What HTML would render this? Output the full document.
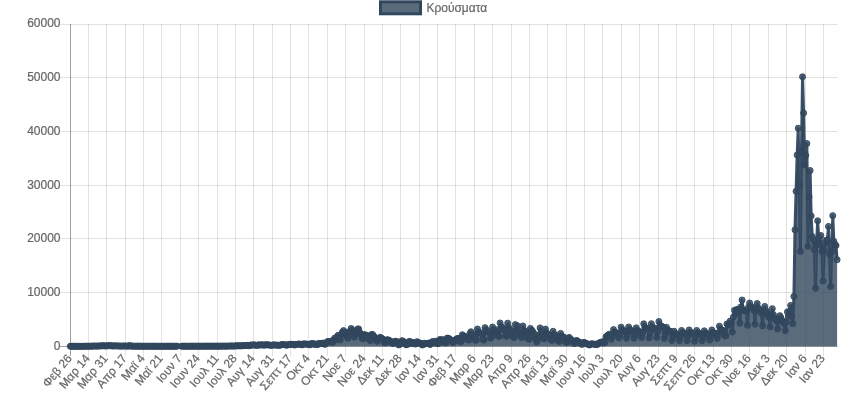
<!DOCTYPE html>
<html lang="el"><head><meta charset="utf-8"><title>Κρούσματα</title>
<style>html,body{margin:0;padding:0;background:#fff}body{width:860px;height:406px;overflow:hidden}svg{display:block}text{font-family:"Liberation Sans",sans-serif;font-size:12px;fill:#666;stroke:#666;stroke-width:0.2px}</style></head><body>
<svg width="860" height="406" viewBox="0 0 860 406">
<rect width="860" height="406" fill="#fff"/>
<rect x="380.5" y="1.8" width="40" height="12" fill="rgba(52,73,94,0.81)" stroke="#31475e" stroke-width="3"/>
<text x="426.4" y="11.7">Κρούσματα</text>
<text x="60.5" y="349.70" text-anchor="end">0</text>
<text x="60.5" y="296.03" text-anchor="end">10000</text>
<text x="60.5" y="242.37" text-anchor="end">20000</text>
<text x="60.5" y="188.70" text-anchor="end">30000</text>
<text x="60.5" y="135.03" text-anchor="end">40000</text>
<text x="60.5" y="81.37" text-anchor="end">50000</text>
<text x="60.5" y="26.70" text-anchor="end">60000</text>
<text transform="translate(69.60,356) rotate(-50)" text-anchor="end" x="0" y="4">Φεβ 26</text>
<text transform="translate(87.60,356) rotate(-50)" text-anchor="end" x="0" y="4">Μαρ 14</text>
<text transform="translate(105.60,356) rotate(-50)" text-anchor="end" x="0" y="4">Μαρ 31</text>
<text transform="translate(124.60,356) rotate(-50)" text-anchor="end" x="0" y="4">Απρ 17</text>
<text transform="translate(142.60,356) rotate(-50)" text-anchor="end" x="0" y="4">Μαϊ 4</text>
<text transform="translate(160.60,356) rotate(-50)" text-anchor="end" x="0" y="4">Μαϊ 21</text>
<text transform="translate(179.60,356) rotate(-50)" text-anchor="end" x="0" y="4">Ιουν 7</text>
<text transform="translate(197.60,356) rotate(-50)" text-anchor="end" x="0" y="4">Ιουν 24</text>
<text transform="translate(216.60,356) rotate(-50)" text-anchor="end" x="0" y="4">Ιουλ 11</text>
<text transform="translate(234.60,356) rotate(-50)" text-anchor="end" x="0" y="4">Ιουλ 28</text>
<text transform="translate(252.60,356) rotate(-50)" text-anchor="end" x="0" y="4">Αυγ 14</text>
<text transform="translate(271.60,356) rotate(-50)" text-anchor="end" x="0" y="4">Αυγ 31</text>
<text transform="translate(289.60,356) rotate(-50)" text-anchor="end" x="0" y="4">Σεπτ 17</text>
<text transform="translate(307.60,356) rotate(-50)" text-anchor="end" x="0" y="4">Οκτ 4</text>
<text transform="translate(326.60,356) rotate(-50)" text-anchor="end" x="0" y="4">Οκτ 21</text>
<text transform="translate(344.60,356) rotate(-50)" text-anchor="end" x="0" y="4">Νοε 7</text>
<text transform="translate(363.60,356) rotate(-50)" text-anchor="end" x="0" y="4">Νοε 24</text>
<text transform="translate(381.60,356) rotate(-50)" text-anchor="end" x="0" y="4">Δεκ 11</text>
<text transform="translate(399.60,356) rotate(-50)" text-anchor="end" x="0" y="4">Δεκ 28</text>
<text transform="translate(418.60,356) rotate(-50)" text-anchor="end" x="0" y="4">Ιαν 14</text>
<text transform="translate(436.60,356) rotate(-50)" text-anchor="end" x="0" y="4">Ιαν 31</text>
<text transform="translate(454.60,356) rotate(-50)" text-anchor="end" x="0" y="4">Φεβ 17</text>
<text transform="translate(473.60,356) rotate(-50)" text-anchor="end" x="0" y="4">Μαρ 6</text>
<text transform="translate(491.60,356) rotate(-50)" text-anchor="end" x="0" y="4">Μαρ 23</text>
<text transform="translate(510.60,356) rotate(-50)" text-anchor="end" x="0" y="4">Απρ 9</text>
<text transform="translate(528.60,356) rotate(-50)" text-anchor="end" x="0" y="4">Απρ 26</text>
<text transform="translate(546.60,356) rotate(-50)" text-anchor="end" x="0" y="4">Μαϊ 13</text>
<text transform="translate(565.60,356) rotate(-50)" text-anchor="end" x="0" y="4">Μαϊ 30</text>
<text transform="translate(583.60,356) rotate(-50)" text-anchor="end" x="0" y="4">Ιουν 16</text>
<text transform="translate(601.60,356) rotate(-50)" text-anchor="end" x="0" y="4">Ιουλ 3</text>
<text transform="translate(620.60,356) rotate(-50)" text-anchor="end" x="0" y="4">Ιουλ 20</text>
<text transform="translate(638.60,356) rotate(-50)" text-anchor="end" x="0" y="4">Αυγ 6</text>
<text transform="translate(657.60,356) rotate(-50)" text-anchor="end" x="0" y="4">Αυγ 23</text>
<text transform="translate(675.60,356) rotate(-50)" text-anchor="end" x="0" y="4">Σεπτ 9</text>
<text transform="translate(693.60,356) rotate(-50)" text-anchor="end" x="0" y="4">Σεπτ 26</text>
<text transform="translate(712.60,356) rotate(-50)" text-anchor="end" x="0" y="4">Οκτ 13</text>
<text transform="translate(730.60,356) rotate(-50)" text-anchor="end" x="0" y="4">Οκτ 30</text>
<text transform="translate(748.60,356) rotate(-50)" text-anchor="end" x="0" y="4">Νοε 16</text>
<text transform="translate(767.60,356) rotate(-50)" text-anchor="end" x="0" y="4">Δεκ 3</text>
<text transform="translate(785.60,356) rotate(-50)" text-anchor="end" x="0" y="4">Δεκ 20</text>
<text transform="translate(804.60,356) rotate(-50)" text-anchor="end" x="0" y="4">Ιαν 6</text>
<text transform="translate(822.60,356) rotate(-50)" text-anchor="end" x="0" y="4">Ιαν 23</text>
<g stroke-width="1" shape-rendering="auto"><line x1="60" y1="346.50" x2="837.5" y2="346.50" stroke="rgba(0,0,0,0.37)"/><line x1="60" y1="292.50" x2="837.5" y2="292.50" stroke="rgba(0,0,0,0.115)"/><line x1="60" y1="238.50" x2="837.5" y2="238.50" stroke="rgba(0,0,0,0.115)"/><line x1="60" y1="185.50" x2="837.5" y2="185.50" stroke="rgba(0,0,0,0.115)"/><line x1="60" y1="131.50" x2="837.5" y2="131.50" stroke="rgba(0,0,0,0.115)"/><line x1="60" y1="77.50" x2="837.5" y2="77.50" stroke="rgba(0,0,0,0.115)"/><line x1="60" y1="24.50" x2="837.5" y2="24.50" stroke="rgba(0,0,0,0.115)"/><line x1="70.50" y1="24" x2="70.50" y2="356" stroke="rgba(0,0,0,0.37)"/><line x1="88.50" y1="24" x2="88.50" y2="356" stroke="rgba(0,0,0,0.115)"/><line x1="106.50" y1="24" x2="106.50" y2="356" stroke="rgba(0,0,0,0.115)"/><line x1="125.50" y1="24" x2="125.50" y2="356" stroke="rgba(0,0,0,0.115)"/><line x1="143.50" y1="24" x2="143.50" y2="356" stroke="rgba(0,0,0,0.115)"/><line x1="161.50" y1="24" x2="161.50" y2="356" stroke="rgba(0,0,0,0.115)"/><line x1="180.50" y1="24" x2="180.50" y2="356" stroke="rgba(0,0,0,0.115)"/><line x1="198.50" y1="24" x2="198.50" y2="356" stroke="rgba(0,0,0,0.115)"/><line x1="217.50" y1="24" x2="217.50" y2="356" stroke="rgba(0,0,0,0.115)"/><line x1="235.50" y1="24" x2="235.50" y2="356" stroke="rgba(0,0,0,0.115)"/><line x1="253.50" y1="24" x2="253.50" y2="356" stroke="rgba(0,0,0,0.115)"/><line x1="272.50" y1="24" x2="272.50" y2="356" stroke="rgba(0,0,0,0.115)"/><line x1="290.50" y1="24" x2="290.50" y2="356" stroke="rgba(0,0,0,0.115)"/><line x1="308.50" y1="24" x2="308.50" y2="356" stroke="rgba(0,0,0,0.115)"/><line x1="327.50" y1="24" x2="327.50" y2="356" stroke="rgba(0,0,0,0.115)"/><line x1="345.50" y1="24" x2="345.50" y2="356" stroke="rgba(0,0,0,0.115)"/><line x1="364.50" y1="24" x2="364.50" y2="356" stroke="rgba(0,0,0,0.115)"/><line x1="382.50" y1="24" x2="382.50" y2="356" stroke="rgba(0,0,0,0.115)"/><line x1="400.50" y1="24" x2="400.50" y2="356" stroke="rgba(0,0,0,0.115)"/><line x1="419.50" y1="24" x2="419.50" y2="356" stroke="rgba(0,0,0,0.115)"/><line x1="437.50" y1="24" x2="437.50" y2="356" stroke="rgba(0,0,0,0.115)"/><line x1="455.50" y1="24" x2="455.50" y2="356" stroke="rgba(0,0,0,0.115)"/><line x1="474.50" y1="24" x2="474.50" y2="356" stroke="rgba(0,0,0,0.115)"/><line x1="492.50" y1="24" x2="492.50" y2="356" stroke="rgba(0,0,0,0.115)"/><line x1="511.50" y1="24" x2="511.50" y2="356" stroke="rgba(0,0,0,0.115)"/><line x1="529.50" y1="24" x2="529.50" y2="356" stroke="rgba(0,0,0,0.115)"/><line x1="547.50" y1="24" x2="547.50" y2="356" stroke="rgba(0,0,0,0.115)"/><line x1="566.50" y1="24" x2="566.50" y2="356" stroke="rgba(0,0,0,0.115)"/><line x1="584.50" y1="24" x2="584.50" y2="356" stroke="rgba(0,0,0,0.115)"/><line x1="602.50" y1="24" x2="602.50" y2="356" stroke="rgba(0,0,0,0.115)"/><line x1="621.50" y1="24" x2="621.50" y2="356" stroke="rgba(0,0,0,0.115)"/><line x1="639.50" y1="24" x2="639.50" y2="356" stroke="rgba(0,0,0,0.115)"/><line x1="658.50" y1="24" x2="658.50" y2="356" stroke="rgba(0,0,0,0.115)"/><line x1="676.50" y1="24" x2="676.50" y2="356" stroke="rgba(0,0,0,0.115)"/><line x1="694.50" y1="24" x2="694.50" y2="356" stroke="rgba(0,0,0,0.115)"/><line x1="713.50" y1="24" x2="713.50" y2="356" stroke="rgba(0,0,0,0.115)"/><line x1="731.50" y1="24" x2="731.50" y2="356" stroke="rgba(0,0,0,0.115)"/><line x1="749.50" y1="24" x2="749.50" y2="356" stroke="rgba(0,0,0,0.115)"/><line x1="768.50" y1="24" x2="768.50" y2="356" stroke="rgba(0,0,0,0.115)"/><line x1="786.50" y1="24" x2="786.50" y2="356" stroke="rgba(0,0,0,0.115)"/><line x1="805.50" y1="24" x2="805.50" y2="356" stroke="rgba(0,0,0,0.115)"/><line x1="823.50" y1="24" x2="823.50" y2="356" stroke="rgba(0,0,0,0.115)"/></g>
<path d="M70.30,346.30 L70.30,346.29 L71.38,346.29 L72.46,346.29 L73.54,346.29 L74.62,346.29 L75.70,346.28 L76.78,346.27 L77.86,346.27 L78.94,346.27 L80.02,346.27 L81.10,346.27 L82.18,346.27 L83.26,346.27 L84.34,346.25 L85.42,346.24 L86.50,346.22 L87.58,346.20 L88.66,346.20 L89.74,346.19 L90.82,346.20 L91.90,346.13 L92.98,346.11 L94.06,346.06 L95.14,346.06 L96.22,346.07 L97.30,346.09 L98.38,346.07 L99.46,345.93 L100.54,345.92 L101.62,345.88 L102.70,345.81 L103.78,345.77 L104.86,345.97 L105.94,345.98 L107.02,345.79 L108.10,345.86 L109.18,345.61 L110.26,345.79 L111.34,345.77 L112.42,345.93 L113.50,346.03 L114.58,345.81 L115.66,345.88 L116.74,345.96 L117.82,345.95 L118.90,345.99 L119.98,346.08 L121.06,346.10 L122.14,346.05 L123.22,346.02 L124.30,346.00 L125.38,346.02 L126.46,346.04 L127.54,346.11 L128.62,346.13 L129.70,345.46 L130.78,346.07 L131.86,346.13 L132.94,346.12 L134.02,346.17 L135.10,346.17 L136.18,346.19 L137.26,346.16 L138.34,346.15 L139.42,346.19 L140.50,346.19 L141.58,346.20 L142.66,346.23 L143.74,346.23 L144.82,346.18 L145.90,346.21 L146.98,346.20 L148.06,346.21 L149.14,346.20 L150.22,346.23 L151.30,346.24 L152.38,346.21 L153.46,346.21 L154.54,346.23 L155.62,346.21 L156.70,346.24 L157.78,346.24 L158.86,346.25 L159.94,346.23 L161.02,346.23 L162.10,346.22 L163.18,346.22 L164.26,346.24 L165.34,346.26 L166.42,346.25 L167.50,346.22 L168.58,346.22 L169.66,346.22 L170.74,346.21 L171.82,346.22 L172.90,346.24 L173.98,346.24 L175.06,346.21 L176.14,346.21 L177.22,346.19 L178.30,346.20 L179.38,346.22 L180.46,346.22 L181.54,346.23 L182.62,346.18 L183.70,346.19 L184.78,346.20 L185.86,346.20 L186.94,346.19 L188.02,346.21 L189.10,346.22 L190.18,346.18 L191.26,346.18 L192.34,346.17 L193.42,346.19 L194.50,346.18 L195.58,346.20 L196.66,346.21 L197.74,346.18 L198.82,346.15 L199.90,346.18 L200.98,346.16 L202.06,346.18 L203.14,346.21 L204.22,346.20 L205.30,346.15 L206.38,346.15 L207.46,346.15 L208.54,346.16 L209.62,346.17 L210.70,346.19 L211.78,346.18 L212.86,346.13 L213.94,346.14 L215.02,346.13 L216.10,346.14 L217.18,346.15 L218.26,346.17 L219.34,346.19 L220.42,346.14 L221.50,346.13 L222.58,346.12 L223.66,346.12 L224.74,346.12 L225.82,346.17 L226.90,346.17 L227.98,346.07 L229.06,346.06 L230.14,346.01 L231.22,345.99 L232.30,346.02 L233.38,346.02 L234.46,346.07 L235.54,345.87 L236.62,345.85 L237.70,345.82 L238.78,345.83 L239.86,345.82 L240.94,345.88 L242.02,345.85 L243.10,345.65 L244.18,345.56 L245.26,345.55 L246.34,345.56 L247.42,345.32 L248.50,345.60 L249.58,345.69 L250.66,345.01 L251.74,345.18 L252.82,344.98 L253.90,344.84 L254.98,345.09 L256.06,345.31 L257.14,345.40 L258.22,344.84 L259.30,345.03 L260.38,345.00 L261.46,344.86 L262.54,344.83 L263.62,345.14 L264.70,345.17 L265.78,344.65 L266.86,344.85 L267.94,344.85 L269.02,345.09 L270.10,345.08 L271.18,345.34 L272.26,345.36 L273.34,344.82 L274.42,344.99 L275.50,345.04 L276.58,345.16 L277.66,345.13 L278.74,345.30 L279.82,345.35 L280.90,344.91 L281.98,344.56 L283.06,344.63 L284.14,344.74 L285.22,344.86 L286.30,345.10 L287.38,345.15 L288.46,344.50 L289.54,344.43 L290.62,344.38 L291.70,344.26 L292.78,344.40 L293.86,344.89 L294.94,344.96 L296.02,344.32 L297.10,344.35 L298.18,343.96 L299.26,344.32 L300.34,344.06 L301.42,344.77 L302.50,344.84 L303.58,343.84 L304.66,344.05 L305.74,344.00 L306.82,344.10 L307.90,344.28 L308.98,344.62 L310.06,344.84 L311.14,343.56 L312.22,343.93 L313.30,343.59 L314.38,344.40 L315.46,344.02 L316.54,344.37 L317.62,344.65 L318.70,343.40 L319.78,343.50 L320.86,343.67 L321.94,343.43 L323.02,343.06 L324.10,344.08 L325.18,344.24 L326.26,342.71 L327.34,341.65 L328.42,341.56 L329.50,341.78 L330.58,341.27 L331.66,342.05 L332.74,342.46 L333.82,339.53 L334.90,337.98 L335.98,339.79 L337.06,337.21 L338.14,335.25 L339.22,337.28 L340.30,340.11 L341.38,334.65 L342.46,332.07 L343.54,330.62 L344.62,333.14 L345.70,332.56 L346.78,336.01 L347.86,338.29 L348.94,333.48 L350.02,331.50 L351.10,328.47 L352.18,329.97 L353.26,331.06 L354.34,337.17 L355.42,334.48 L356.50,333.28 L357.58,329.05 L358.66,328.95 L359.74,332.42 L360.82,333.87 L361.90,338.25 L362.98,338.84 L364.06,334.82 L365.14,334.73 L366.22,335.45 L367.30,335.48 L368.38,336.91 L369.46,339.89 L370.54,340.69 L371.62,334.48 L372.70,334.55 L373.78,336.18 L374.86,337.34 L375.94,338.86 L377.02,341.44 L378.10,339.57 L379.18,338.87 L380.26,337.29 L381.34,338.06 L382.42,338.80 L383.50,339.88 L384.58,342.57 L385.66,342.86 L386.74,339.77 L387.82,339.90 L388.90,340.09 L389.98,341.37 L391.06,341.46 L392.14,343.14 L393.22,343.47 L394.30,341.71 L395.38,341.26 L396.46,341.37 L397.54,342.98 L398.62,344.89 L399.70,344.46 L400.78,343.75 L401.86,340.67 L402.94,341.24 L404.02,341.70 L405.10,343.09 L406.18,344.89 L407.26,344.20 L408.34,344.00 L409.42,341.31 L410.50,341.94 L411.58,343.56 L412.66,342.42 L413.74,343.14 L414.82,343.91 L415.90,343.91 L416.98,341.64 L418.06,342.69 L419.14,343.02 L420.22,343.02 L421.30,343.56 L422.38,345.03 L423.46,344.58 L424.54,343.26 L425.62,343.53 L426.70,343.56 L427.78,343.26 L428.86,343.05 L429.94,344.50 L431.02,343.96 L432.10,341.78 L433.18,341.69 L434.26,342.45 L435.34,341.24 L436.42,341.92 L437.50,343.70 L438.58,343.38 L439.66,339.52 L440.74,340.11 L441.82,339.87 L442.90,339.69 L443.98,340.32 L445.06,342.89 L446.14,342.87 L447.22,338.10 L448.30,338.26 L449.38,338.77 L450.46,339.73 L451.54,340.33 L452.62,342.46 L453.70,342.23 L454.78,340.27 L455.86,339.73 L456.94,338.64 L458.02,338.45 L459.10,338.70 L460.18,341.55 L461.26,341.57 L462.34,334.76 L463.42,336.01 L464.50,336.68 L465.58,336.71 L466.66,337.54 L467.74,339.48 L468.82,339.98 L469.90,333.65 L470.98,331.77 L472.06,334.37 L473.14,334.39 L474.22,336.48 L475.30,340.16 L476.38,340.04 L477.46,329.01 L478.54,332.14 L479.62,332.48 L480.70,333.37 L481.78,333.93 L482.86,339.20 L483.94,340.16 L485.02,327.67 L486.10,329.78 L487.18,331.33 L488.26,331.53 L489.34,332.78 L490.42,338.16 L491.50,337.12 L492.58,327.02 L493.66,329.84 L494.74,332.39 L495.82,331.32 L496.90,329.74 L497.98,335.79 L499.06,336.62 L500.14,322.97 L501.22,326.86 L502.30,327.53 L503.38,329.72 L504.46,328.92 L505.54,335.79 L506.62,336.27 L507.70,323.13 L508.78,327.78 L509.86,328.94 L510.94,331.53 L512.02,331.20 L513.10,336.94 L514.18,337.66 L515.26,324.62 L516.34,329.69 L517.42,325.69 L518.50,329.81 L519.58,333.34 L520.66,336.47 L521.74,337.66 L522.82,325.93 L523.90,330.09 L524.98,331.47 L526.06,331.83 L527.14,334.28 L528.22,338.77 L529.30,339.22 L530.38,328.45 L531.46,330.00 L532.54,331.35 L533.62,332.86 L534.70,335.99 L535.78,338.80 L536.86,342.01 L537.94,338.84 L539.02,335.05 L540.10,327.91 L541.18,331.83 L542.26,334.65 L543.34,338.62 L544.42,338.87 L545.50,329.11 L546.58,332.92 L547.66,334.65 L548.74,334.58 L549.82,335.27 L550.90,339.51 L551.98,340.39 L553.06,331.25 L554.14,334.56 L555.22,335.16 L556.30,335.76 L557.38,336.97 L558.46,340.92 L559.54,341.46 L560.62,333.40 L561.70,336.23 L562.78,336.75 L563.86,337.27 L564.94,338.30 L566.02,342.00 L567.10,342.54 L568.18,338.24 L569.26,337.43 L570.34,339.31 L571.42,339.85 L572.50,340.65 L573.58,343.07 L574.66,343.50 L575.74,341.03 L576.82,340.49 L577.90,341.68 L578.98,342.11 L580.06,342.54 L581.14,344.04 L582.22,344.36 L583.30,342.64 L584.38,342.43 L585.46,343.18 L586.54,343.61 L587.62,343.93 L588.70,344.79 L589.78,344.96 L590.86,343.99 L591.94,343.77 L593.02,344.04 L594.10,344.15 L595.18,344.26 L596.26,344.69 L597.34,344.47 L598.42,343.29 L599.50,342.81 L600.58,342.54 L601.66,342.00 L602.74,341.73 L603.82,342.97 L604.90,342.54 L605.98,336.64 L607.06,336.51 L608.14,335.01 L609.22,334.20 L610.30,335.55 L611.38,339.31 L612.46,336.27 L613.54,329.58 L614.62,332.09 L615.70,332.59 L616.78,332.93 L617.86,333.59 L618.94,337.97 L620.02,334.80 L621.10,327.13 L622.18,330.01 L623.26,330.58 L624.34,330.97 L625.42,331.73 L626.50,338.24 L627.58,334.71 L628.66,326.98 L629.74,329.88 L630.82,330.46 L631.90,330.85 L632.98,331.62 L634.06,338.24 L635.14,335.24 L636.22,327.87 L637.30,330.63 L638.38,331.19 L639.46,331.56 L640.54,332.29 L641.62,337.43 L642.70,332.81 L643.78,323.82 L644.86,327.19 L645.94,327.87 L647.02,328.32 L648.10,329.21 L649.18,337.97 L650.26,332.73 L651.34,323.69 L652.42,327.08 L653.50,327.76 L654.58,328.21 L655.66,329.11 L656.74,337.43 L657.82,331.43 L658.90,321.52 L659.98,325.24 L661.06,325.98 L662.14,326.48 L663.22,327.47 L664.30,338.50 L665.38,334.89 L666.46,327.28 L667.54,330.13 L668.62,330.70 L669.70,331.08 L670.78,331.84 L671.86,340.39 L672.94,337.27 L674.02,331.25 L675.10,333.50 L676.18,333.96 L677.26,334.26 L678.34,334.86 L679.42,340.65 L680.50,336.78 L681.58,330.44 L682.66,332.82 L683.74,333.29 L684.82,333.61 L685.90,334.25 L686.98,340.65 L688.06,336.49 L689.14,329.95 L690.22,332.41 L691.30,332.90 L692.38,333.22 L693.46,333.88 L694.54,341.19 L695.62,336.78 L696.70,330.44 L697.78,332.82 L698.86,333.29 L699.94,333.61 L701.02,334.25 L702.10,340.65 L703.18,337.04 L704.26,330.87 L705.34,333.18 L706.42,333.65 L707.50,333.96 L708.58,334.57 L709.66,340.12 L710.74,336.49 L711.82,329.95 L712.90,332.41 L713.98,332.90 L715.06,333.22 L716.14,333.88 L717.22,338.50 L718.30,334.24 L719.38,326.20 L720.46,329.21 L721.54,329.82 L722.62,330.22 L723.70,331.02 L724.78,335.82 L725.86,335.82 L726.94,323.91 L728.02,325.13 L729.10,323.46 L730.18,321.05 L731.26,323.18 L732.34,332.05 L733.42,317.00 L734.50,310.28 L735.58,313.23 L736.66,309.70 L737.74,309.15 L738.82,311.93 L739.90,323.18 L740.98,306.86 L742.06,299.99 L743.14,309.73 L744.22,310.37 L745.30,310.80 L746.38,311.37 L747.46,325.33 L748.54,307.14 L749.62,303.02 L750.70,306.96 L751.78,307.18 L752.86,308.08 L753.94,310.37 L755.02,324.26 L756.10,310.09 L757.18,303.56 L758.26,308.08 L759.34,309.80 L760.42,310.80 L761.50,313.23 L762.58,325.87 L763.66,310.28 L764.74,306.41 L765.82,310.45 L766.90,312.82 L767.98,315.46 L769.06,317.27 L770.14,326.94 L771.22,314.58 L772.30,308.66 L773.38,314.58 L774.46,317.80 L775.54,319.42 L776.62,321.03 L777.70,329.09 L778.78,320.49 L779.86,315.65 L780.94,317.80 L782.02,320.49 L783.10,321.57 L784.18,323.72 L785.26,330.71 L786.34,322.11 L787.42,311.89 L788.50,315.97 L789.58,311.35 L790.66,305.44 L791.74,316.73 L792.82,323.72 L793.90,296.38 L794.98,229.86 L796.06,191.30 L797.14,155.00 L798.22,128.22 L799.30,184.95 L800.38,251.40 L801.46,151.42 L802.54,76.79 L803.62,113.03 L804.70,165.02 L805.78,155.43 L806.86,143.60 L807.94,246.46 L809.02,197.01 L810.10,170.52 L811.18,215.94 L812.26,236.57 L813.34,239.99 L814.42,249.74 L815.50,288.32 L816.58,244.36 L817.66,220.81 L818.74,238.19 L819.82,244.85 L820.90,235.54 L821.98,251.41 L823.06,281.03 L824.14,250.06 L825.22,243.07 L826.30,240.32 L827.38,239.84 L828.46,226.40 L829.54,254.31 L830.62,286.62 L831.70,251.40 L832.78,215.63 L833.86,241.45 L834.94,244.68 L836.02,245.49 L837.10,259.74 L837.10,346.30 Z" fill="rgba(52,73,94,0.81)"/>
<path d="M70.30,346.29 L71.38,346.29 L72.46,346.29 L73.54,346.29 L74.62,346.29 L75.70,346.28 L76.78,346.27 L77.86,346.27 L78.94,346.27 L80.02,346.27 L81.10,346.27 L82.18,346.27 L83.26,346.27 L84.34,346.25 L85.42,346.24 L86.50,346.22 L87.58,346.20 L88.66,346.20 L89.74,346.19 L90.82,346.20 L91.90,346.13 L92.98,346.11 L94.06,346.06 L95.14,346.06 L96.22,346.07 L97.30,346.09 L98.38,346.07 L99.46,345.93 L100.54,345.92 L101.62,345.88 L102.70,345.81 L103.78,345.77 L104.86,345.97 L105.94,345.98 L107.02,345.79 L108.10,345.86 L109.18,345.61 L110.26,345.79 L111.34,345.77 L112.42,345.93 L113.50,346.03 L114.58,345.81 L115.66,345.88 L116.74,345.96 L117.82,345.95 L118.90,345.99 L119.98,346.08 L121.06,346.10 L122.14,346.05 L123.22,346.02 L124.30,346.00 L125.38,346.02 L126.46,346.04 L127.54,346.11 L128.62,346.13 L129.70,345.46 L130.78,346.07 L131.86,346.13 L132.94,346.12 L134.02,346.17 L135.10,346.17 L136.18,346.19 L137.26,346.16 L138.34,346.15 L139.42,346.19 L140.50,346.19 L141.58,346.20 L142.66,346.23 L143.74,346.23 L144.82,346.18 L145.90,346.21 L146.98,346.20 L148.06,346.21 L149.14,346.20 L150.22,346.23 L151.30,346.24 L152.38,346.21 L153.46,346.21 L154.54,346.23 L155.62,346.21 L156.70,346.24 L157.78,346.24 L158.86,346.25 L159.94,346.23 L161.02,346.23 L162.10,346.22 L163.18,346.22 L164.26,346.24 L165.34,346.26 L166.42,346.25 L167.50,346.22 L168.58,346.22 L169.66,346.22 L170.74,346.21 L171.82,346.22 L172.90,346.24 L173.98,346.24 L175.06,346.21 L176.14,346.21 L177.22,346.19 L178.30,346.20 L179.38,346.22 L180.46,346.22 L181.54,346.23 L182.62,346.18 L183.70,346.19 L184.78,346.20 L185.86,346.20 L186.94,346.19 L188.02,346.21 L189.10,346.22 L190.18,346.18 L191.26,346.18 L192.34,346.17 L193.42,346.19 L194.50,346.18 L195.58,346.20 L196.66,346.21 L197.74,346.18 L198.82,346.15 L199.90,346.18 L200.98,346.16 L202.06,346.18 L203.14,346.21 L204.22,346.20 L205.30,346.15 L206.38,346.15 L207.46,346.15 L208.54,346.16 L209.62,346.17 L210.70,346.19 L211.78,346.18 L212.86,346.13 L213.94,346.14 L215.02,346.13 L216.10,346.14 L217.18,346.15 L218.26,346.17 L219.34,346.19 L220.42,346.14 L221.50,346.13 L222.58,346.12 L223.66,346.12 L224.74,346.12 L225.82,346.17 L226.90,346.17 L227.98,346.07 L229.06,346.06 L230.14,346.01 L231.22,345.99 L232.30,346.02 L233.38,346.02 L234.46,346.07 L235.54,345.87 L236.62,345.85 L237.70,345.82 L238.78,345.83 L239.86,345.82 L240.94,345.88 L242.02,345.85 L243.10,345.65 L244.18,345.56 L245.26,345.55 L246.34,345.56 L247.42,345.32 L248.50,345.60 L249.58,345.69 L250.66,345.01 L251.74,345.18 L252.82,344.98 L253.90,344.84 L254.98,345.09 L256.06,345.31 L257.14,345.40 L258.22,344.84 L259.30,345.03 L260.38,345.00 L261.46,344.86 L262.54,344.83 L263.62,345.14 L264.70,345.17 L265.78,344.65 L266.86,344.85 L267.94,344.85 L269.02,345.09 L270.10,345.08 L271.18,345.34 L272.26,345.36 L273.34,344.82 L274.42,344.99 L275.50,345.04 L276.58,345.16 L277.66,345.13 L278.74,345.30 L279.82,345.35 L280.90,344.91 L281.98,344.56 L283.06,344.63 L284.14,344.74 L285.22,344.86 L286.30,345.10 L287.38,345.15 L288.46,344.50 L289.54,344.43 L290.62,344.38 L291.70,344.26 L292.78,344.40 L293.86,344.89 L294.94,344.96 L296.02,344.32 L297.10,344.35 L298.18,343.96 L299.26,344.32 L300.34,344.06 L301.42,344.77 L302.50,344.84 L303.58,343.84 L304.66,344.05 L305.74,344.00 L306.82,344.10 L307.90,344.28 L308.98,344.62 L310.06,344.84 L311.14,343.56 L312.22,343.93 L313.30,343.59 L314.38,344.40 L315.46,344.02 L316.54,344.37 L317.62,344.65 L318.70,343.40 L319.78,343.50 L320.86,343.67 L321.94,343.43 L323.02,343.06 L324.10,344.08 L325.18,344.24 L326.26,342.71 L327.34,341.65 L328.42,341.56 L329.50,341.78 L330.58,341.27 L331.66,342.05 L332.74,342.46 L333.82,339.53 L334.90,337.98 L335.98,339.79 L337.06,337.21 L338.14,335.25 L339.22,337.28 L340.30,340.11 L341.38,334.65 L342.46,332.07 L343.54,330.62 L344.62,333.14 L345.70,332.56 L346.78,336.01 L347.86,338.29 L348.94,333.48 L350.02,331.50 L351.10,328.47 L352.18,329.97 L353.26,331.06 L354.34,337.17 L355.42,334.48 L356.50,333.28 L357.58,329.05 L358.66,328.95 L359.74,332.42 L360.82,333.87 L361.90,338.25 L362.98,338.84 L364.06,334.82 L365.14,334.73 L366.22,335.45 L367.30,335.48 L368.38,336.91 L369.46,339.89 L370.54,340.69 L371.62,334.48 L372.70,334.55 L373.78,336.18 L374.86,337.34 L375.94,338.86 L377.02,341.44 L378.10,339.57 L379.18,338.87 L380.26,337.29 L381.34,338.06 L382.42,338.80 L383.50,339.88 L384.58,342.57 L385.66,342.86 L386.74,339.77 L387.82,339.90 L388.90,340.09 L389.98,341.37 L391.06,341.46 L392.14,343.14 L393.22,343.47 L394.30,341.71 L395.38,341.26 L396.46,341.37 L397.54,342.98 L398.62,344.89 L399.70,344.46 L400.78,343.75 L401.86,340.67 L402.94,341.24 L404.02,341.70 L405.10,343.09 L406.18,344.89 L407.26,344.20 L408.34,344.00 L409.42,341.31 L410.50,341.94 L411.58,343.56 L412.66,342.42 L413.74,343.14 L414.82,343.91 L415.90,343.91 L416.98,341.64 L418.06,342.69 L419.14,343.02 L420.22,343.02 L421.30,343.56 L422.38,345.03 L423.46,344.58 L424.54,343.26 L425.62,343.53 L426.70,343.56 L427.78,343.26 L428.86,343.05 L429.94,344.50 L431.02,343.96 L432.10,341.78 L433.18,341.69 L434.26,342.45 L435.34,341.24 L436.42,341.92 L437.50,343.70 L438.58,343.38 L439.66,339.52 L440.74,340.11 L441.82,339.87 L442.90,339.69 L443.98,340.32 L445.06,342.89 L446.14,342.87 L447.22,338.10 L448.30,338.26 L449.38,338.77 L450.46,339.73 L451.54,340.33 L452.62,342.46 L453.70,342.23 L454.78,340.27 L455.86,339.73 L456.94,338.64 L458.02,338.45 L459.10,338.70 L460.18,341.55 L461.26,341.57 L462.34,334.76 L463.42,336.01 L464.50,336.68 L465.58,336.71 L466.66,337.54 L467.74,339.48 L468.82,339.98 L469.90,333.65 L470.98,331.77 L472.06,334.37 L473.14,334.39 L474.22,336.48 L475.30,340.16 L476.38,340.04 L477.46,329.01 L478.54,332.14 L479.62,332.48 L480.70,333.37 L481.78,333.93 L482.86,339.20 L483.94,340.16 L485.02,327.67 L486.10,329.78 L487.18,331.33 L488.26,331.53 L489.34,332.78 L490.42,338.16 L491.50,337.12 L492.58,327.02 L493.66,329.84 L494.74,332.39 L495.82,331.32 L496.90,329.74 L497.98,335.79 L499.06,336.62 L500.14,322.97 L501.22,326.86 L502.30,327.53 L503.38,329.72 L504.46,328.92 L505.54,335.79 L506.62,336.27 L507.70,323.13 L508.78,327.78 L509.86,328.94 L510.94,331.53 L512.02,331.20 L513.10,336.94 L514.18,337.66 L515.26,324.62 L516.34,329.69 L517.42,325.69 L518.50,329.81 L519.58,333.34 L520.66,336.47 L521.74,337.66 L522.82,325.93 L523.90,330.09 L524.98,331.47 L526.06,331.83 L527.14,334.28 L528.22,338.77 L529.30,339.22 L530.38,328.45 L531.46,330.00 L532.54,331.35 L533.62,332.86 L534.70,335.99 L535.78,338.80 L536.86,342.01 L537.94,338.84 L539.02,335.05 L540.10,327.91 L541.18,331.83 L542.26,334.65 L543.34,338.62 L544.42,338.87 L545.50,329.11 L546.58,332.92 L547.66,334.65 L548.74,334.58 L549.82,335.27 L550.90,339.51 L551.98,340.39 L553.06,331.25 L554.14,334.56 L555.22,335.16 L556.30,335.76 L557.38,336.97 L558.46,340.92 L559.54,341.46 L560.62,333.40 L561.70,336.23 L562.78,336.75 L563.86,337.27 L564.94,338.30 L566.02,342.00 L567.10,342.54 L568.18,338.24 L569.26,337.43 L570.34,339.31 L571.42,339.85 L572.50,340.65 L573.58,343.07 L574.66,343.50 L575.74,341.03 L576.82,340.49 L577.90,341.68 L578.98,342.11 L580.06,342.54 L581.14,344.04 L582.22,344.36 L583.30,342.64 L584.38,342.43 L585.46,343.18 L586.54,343.61 L587.62,343.93 L588.70,344.79 L589.78,344.96 L590.86,343.99 L591.94,343.77 L593.02,344.04 L594.10,344.15 L595.18,344.26 L596.26,344.69 L597.34,344.47 L598.42,343.29 L599.50,342.81 L600.58,342.54 L601.66,342.00 L602.74,341.73 L603.82,342.97 L604.90,342.54 L605.98,336.64 L607.06,336.51 L608.14,335.01 L609.22,334.20 L610.30,335.55 L611.38,339.31 L612.46,336.27 L613.54,329.58 L614.62,332.09 L615.70,332.59 L616.78,332.93 L617.86,333.59 L618.94,337.97 L620.02,334.80 L621.10,327.13 L622.18,330.01 L623.26,330.58 L624.34,330.97 L625.42,331.73 L626.50,338.24 L627.58,334.71 L628.66,326.98 L629.74,329.88 L630.82,330.46 L631.90,330.85 L632.98,331.62 L634.06,338.24 L635.14,335.24 L636.22,327.87 L637.30,330.63 L638.38,331.19 L639.46,331.56 L640.54,332.29 L641.62,337.43 L642.70,332.81 L643.78,323.82 L644.86,327.19 L645.94,327.87 L647.02,328.32 L648.10,329.21 L649.18,337.97 L650.26,332.73 L651.34,323.69 L652.42,327.08 L653.50,327.76 L654.58,328.21 L655.66,329.11 L656.74,337.43 L657.82,331.43 L658.90,321.52 L659.98,325.24 L661.06,325.98 L662.14,326.48 L663.22,327.47 L664.30,338.50 L665.38,334.89 L666.46,327.28 L667.54,330.13 L668.62,330.70 L669.70,331.08 L670.78,331.84 L671.86,340.39 L672.94,337.27 L674.02,331.25 L675.10,333.50 L676.18,333.96 L677.26,334.26 L678.34,334.86 L679.42,340.65 L680.50,336.78 L681.58,330.44 L682.66,332.82 L683.74,333.29 L684.82,333.61 L685.90,334.25 L686.98,340.65 L688.06,336.49 L689.14,329.95 L690.22,332.41 L691.30,332.90 L692.38,333.22 L693.46,333.88 L694.54,341.19 L695.62,336.78 L696.70,330.44 L697.78,332.82 L698.86,333.29 L699.94,333.61 L701.02,334.25 L702.10,340.65 L703.18,337.04 L704.26,330.87 L705.34,333.18 L706.42,333.65 L707.50,333.96 L708.58,334.57 L709.66,340.12 L710.74,336.49 L711.82,329.95 L712.90,332.41 L713.98,332.90 L715.06,333.22 L716.14,333.88 L717.22,338.50 L718.30,334.24 L719.38,326.20 L720.46,329.21 L721.54,329.82 L722.62,330.22 L723.70,331.02 L724.78,335.82 L725.86,335.82 L726.94,323.91 L728.02,325.13 L729.10,323.46 L730.18,321.05 L731.26,323.18 L732.34,332.05 L733.42,317.00 L734.50,310.28 L735.58,313.23 L736.66,309.70 L737.74,309.15 L738.82,311.93 L739.90,323.18 L740.98,306.86 L742.06,299.99 L743.14,309.73 L744.22,310.37 L745.30,310.80 L746.38,311.37 L747.46,325.33 L748.54,307.14 L749.62,303.02 L750.70,306.96 L751.78,307.18 L752.86,308.08 L753.94,310.37 L755.02,324.26 L756.10,310.09 L757.18,303.56 L758.26,308.08 L759.34,309.80 L760.42,310.80 L761.50,313.23 L762.58,325.87 L763.66,310.28 L764.74,306.41 L765.82,310.45 L766.90,312.82 L767.98,315.46 L769.06,317.27 L770.14,326.94 L771.22,314.58 L772.30,308.66 L773.38,314.58 L774.46,317.80 L775.54,319.42 L776.62,321.03 L777.70,329.09 L778.78,320.49 L779.86,315.65 L780.94,317.80 L782.02,320.49 L783.10,321.57 L784.18,323.72 L785.26,330.71 L786.34,322.11 L787.42,311.89 L788.50,315.97 L789.58,311.35 L790.66,305.44 L791.74,316.73 L792.82,323.72 L793.90,296.38 L794.98,229.86 L796.06,191.30 L797.14,155.00 L798.22,128.22 L799.30,184.95 L800.38,251.40 L801.46,151.42 L802.54,76.79 L803.62,113.03 L804.70,165.02 L805.78,155.43 L806.86,143.60 L807.94,246.46 L809.02,197.01 L810.10,170.52 L811.18,215.94 L812.26,236.57 L813.34,239.99 L814.42,249.74 L815.50,288.32 L816.58,244.36 L817.66,220.81 L818.74,238.19 L819.82,244.85 L820.90,235.54 L821.98,251.41 L823.06,281.03 L824.14,250.06 L825.22,243.07 L826.30,240.32 L827.38,239.84 L828.46,226.40 L829.54,254.31 L830.62,286.62 L831.70,251.40 L832.78,215.63 L833.86,241.45 L834.94,244.68 L836.02,245.49 L837.10,259.74" fill="none" stroke="rgba(48,70,93,0.94)" stroke-width="3" stroke-linejoin="round"/>
<g fill="rgba(52,73,94,0.81)" stroke="rgba(48,70,93,0.94)" stroke-width="1">
<circle cx="70.30" cy="346.29" r="3"/>
<circle cx="71.38" cy="346.29" r="3"/>
<circle cx="72.46" cy="346.29" r="3"/>
<circle cx="73.54" cy="346.29" r="3"/>
<circle cx="74.62" cy="346.29" r="3"/>
<circle cx="75.70" cy="346.28" r="3"/>
<circle cx="76.78" cy="346.27" r="3"/>
<circle cx="77.86" cy="346.27" r="3"/>
<circle cx="78.94" cy="346.27" r="3"/>
<circle cx="80.02" cy="346.27" r="3"/>
<circle cx="81.10" cy="346.27" r="3"/>
<circle cx="82.18" cy="346.27" r="3"/>
<circle cx="83.26" cy="346.27" r="3"/>
<circle cx="84.34" cy="346.25" r="3"/>
<circle cx="85.42" cy="346.24" r="3"/>
<circle cx="86.50" cy="346.22" r="3"/>
<circle cx="87.58" cy="346.20" r="3"/>
<circle cx="88.66" cy="346.20" r="3"/>
<circle cx="89.74" cy="346.19" r="3"/>
<circle cx="90.82" cy="346.20" r="3"/>
<circle cx="91.90" cy="346.13" r="3"/>
<circle cx="92.98" cy="346.11" r="3"/>
<circle cx="94.06" cy="346.06" r="3"/>
<circle cx="95.14" cy="346.06" r="3"/>
<circle cx="96.22" cy="346.07" r="3"/>
<circle cx="97.30" cy="346.09" r="3"/>
<circle cx="98.38" cy="346.07" r="3"/>
<circle cx="99.46" cy="345.93" r="3"/>
<circle cx="100.54" cy="345.92" r="3"/>
<circle cx="101.62" cy="345.88" r="3"/>
<circle cx="102.70" cy="345.81" r="3"/>
<circle cx="103.78" cy="345.77" r="3"/>
<circle cx="104.86" cy="345.97" r="3"/>
<circle cx="105.94" cy="345.98" r="3"/>
<circle cx="107.02" cy="345.79" r="3"/>
<circle cx="108.10" cy="345.86" r="3"/>
<circle cx="109.18" cy="345.61" r="3"/>
<circle cx="110.26" cy="345.79" r="3"/>
<circle cx="111.34" cy="345.77" r="3"/>
<circle cx="112.42" cy="345.93" r="3"/>
<circle cx="113.50" cy="346.03" r="3"/>
<circle cx="114.58" cy="345.81" r="3"/>
<circle cx="115.66" cy="345.88" r="3"/>
<circle cx="116.74" cy="345.96" r="3"/>
<circle cx="117.82" cy="345.95" r="3"/>
<circle cx="118.90" cy="345.99" r="3"/>
<circle cx="119.98" cy="346.08" r="3"/>
<circle cx="121.06" cy="346.10" r="3"/>
<circle cx="122.14" cy="346.05" r="3"/>
<circle cx="123.22" cy="346.02" r="3"/>
<circle cx="124.30" cy="346.00" r="3"/>
<circle cx="125.38" cy="346.02" r="3"/>
<circle cx="126.46" cy="346.04" r="3"/>
<circle cx="127.54" cy="346.11" r="3"/>
<circle cx="128.62" cy="346.13" r="3"/>
<circle cx="129.70" cy="345.46" r="3"/>
<circle cx="130.78" cy="346.07" r="3"/>
<circle cx="131.86" cy="346.13" r="3"/>
<circle cx="132.94" cy="346.12" r="3"/>
<circle cx="134.02" cy="346.17" r="3"/>
<circle cx="135.10" cy="346.17" r="3"/>
<circle cx="136.18" cy="346.19" r="3"/>
<circle cx="137.26" cy="346.16" r="3"/>
<circle cx="138.34" cy="346.15" r="3"/>
<circle cx="139.42" cy="346.19" r="3"/>
<circle cx="140.50" cy="346.19" r="3"/>
<circle cx="141.58" cy="346.20" r="3"/>
<circle cx="142.66" cy="346.23" r="3"/>
<circle cx="143.74" cy="346.23" r="3"/>
<circle cx="144.82" cy="346.18" r="3"/>
<circle cx="145.90" cy="346.21" r="3"/>
<circle cx="146.98" cy="346.20" r="3"/>
<circle cx="148.06" cy="346.21" r="3"/>
<circle cx="149.14" cy="346.20" r="3"/>
<circle cx="150.22" cy="346.23" r="3"/>
<circle cx="151.30" cy="346.24" r="3"/>
<circle cx="152.38" cy="346.21" r="3"/>
<circle cx="153.46" cy="346.21" r="3"/>
<circle cx="154.54" cy="346.23" r="3"/>
<circle cx="155.62" cy="346.21" r="3"/>
<circle cx="156.70" cy="346.24" r="3"/>
<circle cx="157.78" cy="346.24" r="3"/>
<circle cx="158.86" cy="346.25" r="3"/>
<circle cx="159.94" cy="346.23" r="3"/>
<circle cx="161.02" cy="346.23" r="3"/>
<circle cx="162.10" cy="346.22" r="3"/>
<circle cx="163.18" cy="346.22" r="3"/>
<circle cx="164.26" cy="346.24" r="3"/>
<circle cx="165.34" cy="346.26" r="3"/>
<circle cx="166.42" cy="346.25" r="3"/>
<circle cx="167.50" cy="346.22" r="3"/>
<circle cx="168.58" cy="346.22" r="3"/>
<circle cx="169.66" cy="346.22" r="3"/>
<circle cx="170.74" cy="346.21" r="3"/>
<circle cx="171.82" cy="346.22" r="3"/>
<circle cx="172.90" cy="346.24" r="3"/>
<circle cx="173.98" cy="346.24" r="3"/>
<circle cx="175.06" cy="346.21" r="3"/>
<circle cx="176.14" cy="346.21" r="3"/>
<circle cx="177.22" cy="346.19" r="3"/>
<circle cx="181.54" cy="346.23" r="3"/>
<circle cx="182.62" cy="346.18" r="3"/>
<circle cx="183.70" cy="346.19" r="3"/>
<circle cx="184.78" cy="346.20" r="3"/>
<circle cx="185.86" cy="346.20" r="3"/>
<circle cx="186.94" cy="346.19" r="3"/>
<circle cx="188.02" cy="346.21" r="3"/>
<circle cx="189.10" cy="346.22" r="3"/>
<circle cx="190.18" cy="346.18" r="3"/>
<circle cx="191.26" cy="346.18" r="3"/>
<circle cx="192.34" cy="346.17" r="3"/>
<circle cx="193.42" cy="346.19" r="3"/>
<circle cx="194.50" cy="346.18" r="3"/>
<circle cx="195.58" cy="346.20" r="3"/>
<circle cx="196.66" cy="346.21" r="3"/>
<circle cx="197.74" cy="346.18" r="3"/>
<circle cx="198.82" cy="346.15" r="3"/>
<circle cx="199.90" cy="346.18" r="3"/>
<circle cx="200.98" cy="346.16" r="3"/>
<circle cx="202.06" cy="346.18" r="3"/>
<circle cx="203.14" cy="346.21" r="3"/>
<circle cx="204.22" cy="346.20" r="3"/>
<circle cx="205.30" cy="346.15" r="3"/>
<circle cx="206.38" cy="346.15" r="3"/>
<circle cx="207.46" cy="346.15" r="3"/>
<circle cx="208.54" cy="346.16" r="3"/>
<circle cx="209.62" cy="346.17" r="3"/>
<circle cx="210.70" cy="346.19" r="3"/>
<circle cx="211.78" cy="346.18" r="3"/>
<circle cx="212.86" cy="346.13" r="3"/>
<circle cx="213.94" cy="346.14" r="3"/>
<circle cx="215.02" cy="346.13" r="3"/>
<circle cx="216.10" cy="346.14" r="3"/>
<circle cx="217.18" cy="346.15" r="3"/>
<circle cx="218.26" cy="346.17" r="3"/>
<circle cx="219.34" cy="346.19" r="3"/>
<circle cx="220.42" cy="346.14" r="3"/>
<circle cx="221.50" cy="346.13" r="3"/>
<circle cx="222.58" cy="346.12" r="3"/>
<circle cx="223.66" cy="346.12" r="3"/>
<circle cx="224.74" cy="346.12" r="3"/>
<circle cx="225.82" cy="346.17" r="3"/>
<circle cx="226.90" cy="346.17" r="3"/>
<circle cx="227.98" cy="346.07" r="3"/>
<circle cx="229.06" cy="346.06" r="3"/>
<circle cx="230.14" cy="346.01" r="3"/>
<circle cx="231.22" cy="345.99" r="3"/>
<circle cx="232.30" cy="346.02" r="3"/>
<circle cx="233.38" cy="346.02" r="3"/>
<circle cx="234.46" cy="346.07" r="3"/>
<circle cx="235.54" cy="345.87" r="3"/>
<circle cx="236.62" cy="345.85" r="3"/>
<circle cx="237.70" cy="345.82" r="3"/>
<circle cx="238.78" cy="345.83" r="3"/>
<circle cx="239.86" cy="345.82" r="3"/>
<circle cx="240.94" cy="345.88" r="3"/>
<circle cx="242.02" cy="345.85" r="3"/>
<circle cx="243.10" cy="345.65" r="3"/>
<circle cx="244.18" cy="345.56" r="3"/>
<circle cx="245.26" cy="345.55" r="3"/>
<circle cx="246.34" cy="345.56" r="3"/>
<circle cx="247.42" cy="345.32" r="3"/>
<circle cx="248.50" cy="345.60" r="3"/>
<circle cx="249.58" cy="345.69" r="3"/>
<circle cx="250.66" cy="345.01" r="3"/>
<circle cx="251.74" cy="345.18" r="3"/>
<circle cx="252.82" cy="344.98" r="3"/>
<circle cx="253.90" cy="344.84" r="3"/>
<circle cx="254.98" cy="345.09" r="3"/>
<circle cx="256.06" cy="345.31" r="3"/>
<circle cx="257.14" cy="345.40" r="3"/>
<circle cx="258.22" cy="344.84" r="3"/>
<circle cx="259.30" cy="345.03" r="3"/>
<circle cx="260.38" cy="345.00" r="3"/>
<circle cx="261.46" cy="344.86" r="3"/>
<circle cx="262.54" cy="344.83" r="3"/>
<circle cx="263.62" cy="345.14" r="3"/>
<circle cx="264.70" cy="345.17" r="3"/>
<circle cx="265.78" cy="344.65" r="3"/>
<circle cx="266.86" cy="344.85" r="3"/>
<circle cx="267.94" cy="344.85" r="3"/>
<circle cx="269.02" cy="345.09" r="3"/>
<circle cx="270.10" cy="345.08" r="3"/>
<circle cx="271.18" cy="345.34" r="3"/>
<circle cx="272.26" cy="345.36" r="3"/>
<circle cx="273.34" cy="344.82" r="3"/>
<circle cx="274.42" cy="344.99" r="3"/>
<circle cx="275.50" cy="345.04" r="3"/>
<circle cx="276.58" cy="345.16" r="3"/>
<circle cx="277.66" cy="345.13" r="3"/>
<circle cx="278.74" cy="345.30" r="3"/>
<circle cx="279.82" cy="345.35" r="3"/>
<circle cx="280.90" cy="344.91" r="3"/>
<circle cx="281.98" cy="344.56" r="3"/>
<circle cx="283.06" cy="344.63" r="3"/>
<circle cx="284.14" cy="344.74" r="3"/>
<circle cx="285.22" cy="344.86" r="3"/>
<circle cx="286.30" cy="345.10" r="3"/>
<circle cx="287.38" cy="345.15" r="3"/>
<circle cx="288.46" cy="344.50" r="3"/>
<circle cx="289.54" cy="344.43" r="3"/>
<circle cx="290.62" cy="344.38" r="3"/>
<circle cx="291.70" cy="344.26" r="3"/>
<circle cx="292.78" cy="344.40" r="3"/>
<circle cx="293.86" cy="344.89" r="3"/>
<circle cx="294.94" cy="344.96" r="3"/>
<circle cx="296.02" cy="344.32" r="3"/>
<circle cx="297.10" cy="344.35" r="3"/>
<circle cx="298.18" cy="343.96" r="3"/>
<circle cx="299.26" cy="344.32" r="3"/>
<circle cx="300.34" cy="344.06" r="3"/>
<circle cx="301.42" cy="344.77" r="3"/>
<circle cx="302.50" cy="344.84" r="3"/>
<circle cx="303.58" cy="343.84" r="3"/>
<circle cx="304.66" cy="344.05" r="3"/>
<circle cx="305.74" cy="344.00" r="3"/>
<circle cx="306.82" cy="344.10" r="3"/>
<circle cx="307.90" cy="344.28" r="3"/>
<circle cx="308.98" cy="344.62" r="3"/>
<circle cx="310.06" cy="344.84" r="3"/>
<circle cx="311.14" cy="343.56" r="3"/>
<circle cx="312.22" cy="343.93" r="3"/>
<circle cx="313.30" cy="343.59" r="3"/>
<circle cx="314.38" cy="344.40" r="3"/>
<circle cx="315.46" cy="344.02" r="3"/>
<circle cx="316.54" cy="344.37" r="3"/>
<circle cx="317.62" cy="344.65" r="3"/>
<circle cx="318.70" cy="343.40" r="3"/>
<circle cx="319.78" cy="343.50" r="3"/>
<circle cx="320.86" cy="343.67" r="3"/>
<circle cx="321.94" cy="343.43" r="3"/>
<circle cx="323.02" cy="343.06" r="3"/>
<circle cx="324.10" cy="344.08" r="3"/>
<circle cx="325.18" cy="344.24" r="3"/>
<circle cx="326.26" cy="342.71" r="3"/>
<circle cx="327.34" cy="341.65" r="3"/>
<circle cx="328.42" cy="341.56" r="3"/>
<circle cx="329.50" cy="341.78" r="3"/>
<circle cx="330.58" cy="341.27" r="3"/>
<circle cx="331.66" cy="342.05" r="3"/>
<circle cx="332.74" cy="342.46" r="3"/>
<circle cx="333.82" cy="339.53" r="3"/>
<circle cx="334.90" cy="337.98" r="3"/>
<circle cx="335.98" cy="339.79" r="3"/>
<circle cx="337.06" cy="337.21" r="3"/>
<circle cx="338.14" cy="335.25" r="3"/>
<circle cx="339.22" cy="337.28" r="3"/>
<circle cx="340.30" cy="340.11" r="3"/>
<circle cx="341.38" cy="334.65" r="3"/>
<circle cx="342.46" cy="332.07" r="3"/>
<circle cx="343.54" cy="330.62" r="3"/>
<circle cx="344.62" cy="333.14" r="3"/>
<circle cx="345.70" cy="332.56" r="3"/>
<circle cx="346.78" cy="336.01" r="3"/>
<circle cx="347.86" cy="338.29" r="3"/>
<circle cx="348.94" cy="333.48" r="3"/>
<circle cx="350.02" cy="331.50" r="3"/>
<circle cx="351.10" cy="328.47" r="3"/>
<circle cx="352.18" cy="329.97" r="3"/>
<circle cx="353.26" cy="331.06" r="3"/>
<circle cx="354.34" cy="337.17" r="3"/>
<circle cx="355.42" cy="334.48" r="3"/>
<circle cx="356.50" cy="333.28" r="3"/>
<circle cx="357.58" cy="329.05" r="3"/>
<circle cx="358.66" cy="328.95" r="3"/>
<circle cx="359.74" cy="332.42" r="3"/>
<circle cx="360.82" cy="333.87" r="3"/>
<circle cx="361.90" cy="338.25" r="3"/>
<circle cx="362.98" cy="338.84" r="3"/>
<circle cx="364.06" cy="334.82" r="3"/>
<circle cx="365.14" cy="334.73" r="3"/>
<circle cx="366.22" cy="335.45" r="3"/>
<circle cx="367.30" cy="335.48" r="3"/>
<circle cx="368.38" cy="336.91" r="3"/>
<circle cx="369.46" cy="339.89" r="3"/>
<circle cx="370.54" cy="340.69" r="3"/>
<circle cx="371.62" cy="334.48" r="3"/>
<circle cx="372.70" cy="334.55" r="3"/>
<circle cx="373.78" cy="336.18" r="3"/>
<circle cx="374.86" cy="337.34" r="3"/>
<circle cx="375.94" cy="338.86" r="3"/>
<circle cx="377.02" cy="341.44" r="3"/>
<circle cx="378.10" cy="339.57" r="3"/>
<circle cx="379.18" cy="338.87" r="3"/>
<circle cx="380.26" cy="337.29" r="3"/>
<circle cx="381.34" cy="338.06" r="3"/>
<circle cx="382.42" cy="338.80" r="3"/>
<circle cx="383.50" cy="339.88" r="3"/>
<circle cx="384.58" cy="342.57" r="3"/>
<circle cx="385.66" cy="342.86" r="3"/>
<circle cx="386.74" cy="339.77" r="3"/>
<circle cx="387.82" cy="339.90" r="3"/>
<circle cx="388.90" cy="340.09" r="3"/>
<circle cx="389.98" cy="341.37" r="3"/>
<circle cx="391.06" cy="341.46" r="3"/>
<circle cx="392.14" cy="343.14" r="3"/>
<circle cx="393.22" cy="343.47" r="3"/>
<circle cx="394.30" cy="341.71" r="3"/>
<circle cx="395.38" cy="341.26" r="3"/>
<circle cx="396.46" cy="341.37" r="3"/>
<circle cx="397.54" cy="342.98" r="3"/>
<circle cx="398.62" cy="344.89" r="3"/>
<circle cx="399.70" cy="344.46" r="3"/>
<circle cx="400.78" cy="343.75" r="3"/>
<circle cx="401.86" cy="340.67" r="3"/>
<circle cx="402.94" cy="341.24" r="3"/>
<circle cx="404.02" cy="341.70" r="3"/>
<circle cx="405.10" cy="343.09" r="3"/>
<circle cx="406.18" cy="344.89" r="3"/>
<circle cx="407.26" cy="344.20" r="3"/>
<circle cx="408.34" cy="344.00" r="3"/>
<circle cx="409.42" cy="341.31" r="3"/>
<circle cx="410.50" cy="341.94" r="3"/>
<circle cx="411.58" cy="343.56" r="3"/>
<circle cx="412.66" cy="342.42" r="3"/>
<circle cx="413.74" cy="343.14" r="3"/>
<circle cx="414.82" cy="343.91" r="3"/>
<circle cx="415.90" cy="343.91" r="3"/>
<circle cx="416.98" cy="341.64" r="3"/>
<circle cx="418.06" cy="342.69" r="3"/>
<circle cx="419.14" cy="343.02" r="3"/>
<circle cx="420.22" cy="343.02" r="3"/>
<circle cx="421.30" cy="343.56" r="3"/>
<circle cx="422.38" cy="345.03" r="3"/>
<circle cx="423.46" cy="344.58" r="3"/>
<circle cx="424.54" cy="343.26" r="3"/>
<circle cx="425.62" cy="343.53" r="3"/>
<circle cx="426.70" cy="343.56" r="3"/>
<circle cx="427.78" cy="343.26" r="3"/>
<circle cx="428.86" cy="343.05" r="3"/>
<circle cx="429.94" cy="344.50" r="3"/>
<circle cx="431.02" cy="343.96" r="3"/>
<circle cx="432.10" cy="341.78" r="3"/>
<circle cx="433.18" cy="341.69" r="3"/>
<circle cx="434.26" cy="342.45" r="3"/>
<circle cx="435.34" cy="341.24" r="3"/>
<circle cx="436.42" cy="341.92" r="3"/>
<circle cx="437.50" cy="343.70" r="3"/>
<circle cx="438.58" cy="343.38" r="3"/>
<circle cx="439.66" cy="339.52" r="3"/>
<circle cx="440.74" cy="340.11" r="3"/>
<circle cx="441.82" cy="339.87" r="3"/>
<circle cx="442.90" cy="339.69" r="3"/>
<circle cx="443.98" cy="340.32" r="3"/>
<circle cx="445.06" cy="342.89" r="3"/>
<circle cx="446.14" cy="342.87" r="3"/>
<circle cx="447.22" cy="338.10" r="3"/>
<circle cx="448.30" cy="338.26" r="3"/>
<circle cx="449.38" cy="338.77" r="3"/>
<circle cx="450.46" cy="339.73" r="3"/>
<circle cx="451.54" cy="340.33" r="3"/>
<circle cx="452.62" cy="342.46" r="3"/>
<circle cx="453.70" cy="342.23" r="3"/>
<circle cx="454.78" cy="340.27" r="3"/>
<circle cx="455.86" cy="339.73" r="3"/>
<circle cx="456.94" cy="338.64" r="3"/>
<circle cx="458.02" cy="338.45" r="3"/>
<circle cx="459.10" cy="338.70" r="3"/>
<circle cx="460.18" cy="341.55" r="3"/>
<circle cx="461.26" cy="341.57" r="3"/>
<circle cx="462.34" cy="334.76" r="3"/>
<circle cx="463.42" cy="336.01" r="3"/>
<circle cx="464.50" cy="336.68" r="3"/>
<circle cx="465.58" cy="336.71" r="3"/>
<circle cx="466.66" cy="337.54" r="3"/>
<circle cx="467.74" cy="339.48" r="3"/>
<circle cx="468.82" cy="339.98" r="3"/>
<circle cx="469.90" cy="333.65" r="3"/>
<circle cx="470.98" cy="331.77" r="3"/>
<circle cx="472.06" cy="334.37" r="3"/>
<circle cx="473.14" cy="334.39" r="3"/>
<circle cx="474.22" cy="336.48" r="3"/>
<circle cx="475.30" cy="340.16" r="3"/>
<circle cx="476.38" cy="340.04" r="3"/>
<circle cx="477.46" cy="329.01" r="3"/>
<circle cx="478.54" cy="332.14" r="3"/>
<circle cx="479.62" cy="332.48" r="3"/>
<circle cx="480.70" cy="333.37" r="3"/>
<circle cx="481.78" cy="333.93" r="3"/>
<circle cx="482.86" cy="339.20" r="3"/>
<circle cx="483.94" cy="340.16" r="3"/>
<circle cx="485.02" cy="327.67" r="3"/>
<circle cx="486.10" cy="329.78" r="3"/>
<circle cx="487.18" cy="331.33" r="3"/>
<circle cx="488.26" cy="331.53" r="3"/>
<circle cx="489.34" cy="332.78" r="3"/>
<circle cx="490.42" cy="338.16" r="3"/>
<circle cx="491.50" cy="337.12" r="3"/>
<circle cx="492.58" cy="327.02" r="3"/>
<circle cx="493.66" cy="329.84" r="3"/>
<circle cx="494.74" cy="332.39" r="3"/>
<circle cx="495.82" cy="331.32" r="3"/>
<circle cx="496.90" cy="329.74" r="3"/>
<circle cx="497.98" cy="335.79" r="3"/>
<circle cx="499.06" cy="336.62" r="3"/>
<circle cx="500.14" cy="322.97" r="3"/>
<circle cx="501.22" cy="326.86" r="3"/>
<circle cx="502.30" cy="327.53" r="3"/>
<circle cx="503.38" cy="329.72" r="3"/>
<circle cx="504.46" cy="328.92" r="3"/>
<circle cx="505.54" cy="335.79" r="3"/>
<circle cx="506.62" cy="336.27" r="3"/>
<circle cx="507.70" cy="323.13" r="3"/>
<circle cx="508.78" cy="327.78" r="3"/>
<circle cx="509.86" cy="328.94" r="3"/>
<circle cx="510.94" cy="331.53" r="3"/>
<circle cx="512.02" cy="331.20" r="3"/>
<circle cx="513.10" cy="336.94" r="3"/>
<circle cx="514.18" cy="337.66" r="3"/>
<circle cx="515.26" cy="324.62" r="3"/>
<circle cx="516.34" cy="329.69" r="3"/>
<circle cx="517.42" cy="325.69" r="3"/>
<circle cx="518.50" cy="329.81" r="3"/>
<circle cx="519.58" cy="333.34" r="3"/>
<circle cx="520.66" cy="336.47" r="3"/>
<circle cx="521.74" cy="337.66" r="3"/>
<circle cx="522.82" cy="325.93" r="3"/>
<circle cx="523.90" cy="330.09" r="3"/>
<circle cx="524.98" cy="331.47" r="3"/>
<circle cx="526.06" cy="331.83" r="3"/>
<circle cx="527.14" cy="334.28" r="3"/>
<circle cx="528.22" cy="338.77" r="3"/>
<circle cx="529.30" cy="339.22" r="3"/>
<circle cx="530.38" cy="328.45" r="3"/>
<circle cx="531.46" cy="330.00" r="3"/>
<circle cx="532.54" cy="331.35" r="3"/>
<circle cx="533.62" cy="332.86" r="3"/>
<circle cx="534.70" cy="335.99" r="3"/>
<circle cx="535.78" cy="338.80" r="3"/>
<circle cx="536.86" cy="342.01" r="3"/>
<circle cx="537.94" cy="338.84" r="3"/>
<circle cx="539.02" cy="335.05" r="3"/>
<circle cx="540.10" cy="327.91" r="3"/>
<circle cx="541.18" cy="331.83" r="3"/>
<circle cx="542.26" cy="334.65" r="3"/>
<circle cx="543.34" cy="338.62" r="3"/>
<circle cx="544.42" cy="338.87" r="3"/>
<circle cx="545.50" cy="329.11" r="3"/>
<circle cx="546.58" cy="332.92" r="3"/>
<circle cx="547.66" cy="334.65" r="3"/>
<circle cx="548.74" cy="334.58" r="3"/>
<circle cx="549.82" cy="335.27" r="3"/>
<circle cx="550.90" cy="339.51" r="3"/>
<circle cx="551.98" cy="340.39" r="3"/>
<circle cx="553.06" cy="331.25" r="3"/>
<circle cx="554.14" cy="334.56" r="3"/>
<circle cx="555.22" cy="335.16" r="3"/>
<circle cx="556.30" cy="335.76" r="3"/>
<circle cx="557.38" cy="336.97" r="3"/>
<circle cx="558.46" cy="340.92" r="3"/>
<circle cx="559.54" cy="341.46" r="3"/>
<circle cx="560.62" cy="333.40" r="3"/>
<circle cx="561.70" cy="336.23" r="3"/>
<circle cx="562.78" cy="336.75" r="3"/>
<circle cx="563.86" cy="337.27" r="3"/>
<circle cx="564.94" cy="338.30" r="3"/>
<circle cx="566.02" cy="342.00" r="3"/>
<circle cx="567.10" cy="342.54" r="3"/>
<circle cx="568.18" cy="338.24" r="3"/>
<circle cx="569.26" cy="337.43" r="3"/>
<circle cx="570.34" cy="339.31" r="3"/>
<circle cx="571.42" cy="339.85" r="3"/>
<circle cx="572.50" cy="340.65" r="3"/>
<circle cx="573.58" cy="343.07" r="3"/>
<circle cx="574.66" cy="343.50" r="3"/>
<circle cx="575.74" cy="341.03" r="3"/>
<circle cx="576.82" cy="340.49" r="3"/>
<circle cx="577.90" cy="341.68" r="3"/>
<circle cx="578.98" cy="342.11" r="3"/>
<circle cx="580.06" cy="342.54" r="3"/>
<circle cx="581.14" cy="344.04" r="3"/>
<circle cx="582.22" cy="344.36" r="3"/>
<circle cx="583.30" cy="342.64" r="3"/>
<circle cx="584.38" cy="342.43" r="3"/>
<circle cx="585.46" cy="343.18" r="3"/>
<circle cx="586.54" cy="343.61" r="3"/>
<circle cx="587.62" cy="343.93" r="3"/>
<circle cx="588.70" cy="344.79" r="3"/>
<circle cx="589.78" cy="344.96" r="3"/>
<circle cx="590.86" cy="343.99" r="3"/>
<circle cx="591.94" cy="343.77" r="3"/>
<circle cx="593.02" cy="344.04" r="3"/>
<circle cx="594.10" cy="344.15" r="3"/>
<circle cx="595.18" cy="344.26" r="3"/>
<circle cx="596.26" cy="344.69" r="3"/>
<circle cx="597.34" cy="344.47" r="3"/>
<circle cx="598.42" cy="343.29" r="3"/>
<circle cx="599.50" cy="342.81" r="3"/>
<circle cx="600.58" cy="342.54" r="3"/>
<circle cx="601.66" cy="342.00" r="3"/>
<circle cx="602.74" cy="341.73" r="3"/>
<circle cx="603.82" cy="342.97" r="3"/>
<circle cx="604.90" cy="342.54" r="3"/>
<circle cx="605.98" cy="336.64" r="3"/>
<circle cx="607.06" cy="336.51" r="3"/>
<circle cx="608.14" cy="335.01" r="3"/>
<circle cx="609.22" cy="334.20" r="3"/>
<circle cx="610.30" cy="335.55" r="3"/>
<circle cx="611.38" cy="339.31" r="3"/>
<circle cx="612.46" cy="336.27" r="3"/>
<circle cx="613.54" cy="329.58" r="3"/>
<circle cx="614.62" cy="332.09" r="3"/>
<circle cx="615.70" cy="332.59" r="3"/>
<circle cx="616.78" cy="332.93" r="3"/>
<circle cx="617.86" cy="333.59" r="3"/>
<circle cx="618.94" cy="337.97" r="3"/>
<circle cx="620.02" cy="334.80" r="3"/>
<circle cx="621.10" cy="327.13" r="3"/>
<circle cx="622.18" cy="330.01" r="3"/>
<circle cx="623.26" cy="330.58" r="3"/>
<circle cx="624.34" cy="330.97" r="3"/>
<circle cx="625.42" cy="331.73" r="3"/>
<circle cx="626.50" cy="338.24" r="3"/>
<circle cx="627.58" cy="334.71" r="3"/>
<circle cx="628.66" cy="326.98" r="3"/>
<circle cx="629.74" cy="329.88" r="3"/>
<circle cx="630.82" cy="330.46" r="3"/>
<circle cx="631.90" cy="330.85" r="3"/>
<circle cx="632.98" cy="331.62" r="3"/>
<circle cx="634.06" cy="338.24" r="3"/>
<circle cx="635.14" cy="335.24" r="3"/>
<circle cx="636.22" cy="327.87" r="3"/>
<circle cx="637.30" cy="330.63" r="3"/>
<circle cx="638.38" cy="331.19" r="3"/>
<circle cx="639.46" cy="331.56" r="3"/>
<circle cx="640.54" cy="332.29" r="3"/>
<circle cx="641.62" cy="337.43" r="3"/>
<circle cx="642.70" cy="332.81" r="3"/>
<circle cx="643.78" cy="323.82" r="3"/>
<circle cx="644.86" cy="327.19" r="3"/>
<circle cx="645.94" cy="327.87" r="3"/>
<circle cx="647.02" cy="328.32" r="3"/>
<circle cx="648.10" cy="329.21" r="3"/>
<circle cx="649.18" cy="337.97" r="3"/>
<circle cx="650.26" cy="332.73" r="3"/>
<circle cx="651.34" cy="323.69" r="3"/>
<circle cx="652.42" cy="327.08" r="3"/>
<circle cx="653.50" cy="327.76" r="3"/>
<circle cx="654.58" cy="328.21" r="3"/>
<circle cx="655.66" cy="329.11" r="3"/>
<circle cx="656.74" cy="337.43" r="3"/>
<circle cx="657.82" cy="331.43" r="3"/>
<circle cx="658.90" cy="321.52" r="3"/>
<circle cx="659.98" cy="325.24" r="3"/>
<circle cx="661.06" cy="325.98" r="3"/>
<circle cx="662.14" cy="326.48" r="3"/>
<circle cx="663.22" cy="327.47" r="3"/>
<circle cx="664.30" cy="338.50" r="3"/>
<circle cx="665.38" cy="334.89" r="3"/>
<circle cx="666.46" cy="327.28" r="3"/>
<circle cx="667.54" cy="330.13" r="3"/>
<circle cx="668.62" cy="330.70" r="3"/>
<circle cx="669.70" cy="331.08" r="3"/>
<circle cx="670.78" cy="331.84" r="3"/>
<circle cx="671.86" cy="340.39" r="3"/>
<circle cx="672.94" cy="337.27" r="3"/>
<circle cx="674.02" cy="331.25" r="3"/>
<circle cx="675.10" cy="333.50" r="3"/>
<circle cx="676.18" cy="333.96" r="3"/>
<circle cx="677.26" cy="334.26" r="3"/>
<circle cx="678.34" cy="334.86" r="3"/>
<circle cx="679.42" cy="340.65" r="3"/>
<circle cx="680.50" cy="336.78" r="3"/>
<circle cx="681.58" cy="330.44" r="3"/>
<circle cx="682.66" cy="332.82" r="3"/>
<circle cx="683.74" cy="333.29" r="3"/>
<circle cx="684.82" cy="333.61" r="3"/>
<circle cx="685.90" cy="334.25" r="3"/>
<circle cx="686.98" cy="340.65" r="3"/>
<circle cx="688.06" cy="336.49" r="3"/>
<circle cx="689.14" cy="329.95" r="3"/>
<circle cx="690.22" cy="332.41" r="3"/>
<circle cx="691.30" cy="332.90" r="3"/>
<circle cx="692.38" cy="333.22" r="3"/>
<circle cx="693.46" cy="333.88" r="3"/>
<circle cx="694.54" cy="341.19" r="3"/>
<circle cx="695.62" cy="336.78" r="3"/>
<circle cx="696.70" cy="330.44" r="3"/>
<circle cx="697.78" cy="332.82" r="3"/>
<circle cx="698.86" cy="333.29" r="3"/>
<circle cx="699.94" cy="333.61" r="3"/>
<circle cx="701.02" cy="334.25" r="3"/>
<circle cx="702.10" cy="340.65" r="3"/>
<circle cx="703.18" cy="337.04" r="3"/>
<circle cx="704.26" cy="330.87" r="3"/>
<circle cx="705.34" cy="333.18" r="3"/>
<circle cx="706.42" cy="333.65" r="3"/>
<circle cx="707.50" cy="333.96" r="3"/>
<circle cx="708.58" cy="334.57" r="3"/>
<circle cx="709.66" cy="340.12" r="3"/>
<circle cx="710.74" cy="336.49" r="3"/>
<circle cx="711.82" cy="329.95" r="3"/>
<circle cx="712.90" cy="332.41" r="3"/>
<circle cx="713.98" cy="332.90" r="3"/>
<circle cx="715.06" cy="333.22" r="3"/>
<circle cx="716.14" cy="333.88" r="3"/>
<circle cx="717.22" cy="338.50" r="3"/>
<circle cx="718.30" cy="334.24" r="3"/>
<circle cx="719.38" cy="326.20" r="3"/>
<circle cx="720.46" cy="329.21" r="3"/>
<circle cx="721.54" cy="329.82" r="3"/>
<circle cx="722.62" cy="330.22" r="3"/>
<circle cx="723.70" cy="331.02" r="3"/>
<circle cx="724.78" cy="335.82" r="3"/>
<circle cx="725.86" cy="335.82" r="3"/>
<circle cx="726.94" cy="323.91" r="3"/>
<circle cx="728.02" cy="325.13" r="3"/>
<circle cx="729.10" cy="323.46" r="3"/>
<circle cx="730.18" cy="321.05" r="3"/>
<circle cx="731.26" cy="323.18" r="3"/>
<circle cx="732.34" cy="332.05" r="3"/>
<circle cx="733.42" cy="317.00" r="3"/>
<circle cx="734.50" cy="310.28" r="3"/>
<circle cx="735.58" cy="313.23" r="3"/>
<circle cx="736.66" cy="309.70" r="3"/>
<circle cx="737.74" cy="309.15" r="3"/>
<circle cx="738.82" cy="311.93" r="3"/>
<circle cx="739.90" cy="323.18" r="3"/>
<circle cx="740.98" cy="306.86" r="3"/>
<circle cx="742.06" cy="299.99" r="3"/>
<circle cx="743.14" cy="309.73" r="3"/>
<circle cx="744.22" cy="310.37" r="3"/>
<circle cx="745.30" cy="310.80" r="3"/>
<circle cx="746.38" cy="311.37" r="3"/>
<circle cx="747.46" cy="325.33" r="3"/>
<circle cx="748.54" cy="307.14" r="3"/>
<circle cx="749.62" cy="303.02" r="3"/>
<circle cx="750.70" cy="306.96" r="3"/>
<circle cx="751.78" cy="307.18" r="3"/>
<circle cx="752.86" cy="308.08" r="3"/>
<circle cx="753.94" cy="310.37" r="3"/>
<circle cx="755.02" cy="324.26" r="3"/>
<circle cx="756.10" cy="310.09" r="3"/>
<circle cx="757.18" cy="303.56" r="3"/>
<circle cx="758.26" cy="308.08" r="3"/>
<circle cx="759.34" cy="309.80" r="3"/>
<circle cx="760.42" cy="310.80" r="3"/>
<circle cx="761.50" cy="313.23" r="3"/>
<circle cx="762.58" cy="325.87" r="3"/>
<circle cx="763.66" cy="310.28" r="3"/>
<circle cx="764.74" cy="306.41" r="3"/>
<circle cx="765.82" cy="310.45" r="3"/>
<circle cx="766.90" cy="312.82" r="3"/>
<circle cx="767.98" cy="315.46" r="3"/>
<circle cx="769.06" cy="317.27" r="3"/>
<circle cx="770.14" cy="326.94" r="3"/>
<circle cx="771.22" cy="314.58" r="3"/>
<circle cx="772.30" cy="308.66" r="3"/>
<circle cx="773.38" cy="314.58" r="3"/>
<circle cx="774.46" cy="317.80" r="3"/>
<circle cx="775.54" cy="319.42" r="3"/>
<circle cx="776.62" cy="321.03" r="3"/>
<circle cx="777.70" cy="329.09" r="3"/>
<circle cx="778.78" cy="320.49" r="3"/>
<circle cx="779.86" cy="315.65" r="3"/>
<circle cx="780.94" cy="317.80" r="3"/>
<circle cx="782.02" cy="320.49" r="3"/>
<circle cx="783.10" cy="321.57" r="3"/>
<circle cx="784.18" cy="323.72" r="3"/>
<circle cx="785.26" cy="330.71" r="3"/>
<circle cx="786.34" cy="322.11" r="3"/>
<circle cx="787.42" cy="311.89" r="3"/>
<circle cx="788.50" cy="315.97" r="3"/>
<circle cx="789.58" cy="311.35" r="3"/>
<circle cx="790.66" cy="305.44" r="3"/>
<circle cx="791.74" cy="316.73" r="3"/>
<circle cx="792.82" cy="323.72" r="3"/>
<circle cx="793.90" cy="296.38" r="3"/>
<circle cx="794.98" cy="229.86" r="3"/>
<circle cx="796.06" cy="191.30" r="3"/>
<circle cx="797.14" cy="155.00" r="3"/>
<circle cx="798.22" cy="128.22" r="3"/>
<circle cx="799.30" cy="184.95" r="3"/>
<circle cx="800.38" cy="251.40" r="3"/>
<circle cx="801.46" cy="151.42" r="3"/>
<circle cx="802.54" cy="76.79" r="3"/>
<circle cx="803.62" cy="113.03" r="3"/>
<circle cx="804.70" cy="165.02" r="3"/>
<circle cx="805.78" cy="155.43" r="3"/>
<circle cx="806.86" cy="143.60" r="3"/>
<circle cx="807.94" cy="246.46" r="3"/>
<circle cx="809.02" cy="197.01" r="3"/>
<circle cx="810.10" cy="170.52" r="3"/>
<circle cx="811.18" cy="215.94" r="3"/>
<circle cx="812.26" cy="236.57" r="3"/>
<circle cx="813.34" cy="239.99" r="3"/>
<circle cx="814.42" cy="249.74" r="3"/>
<circle cx="815.50" cy="288.32" r="3"/>
<circle cx="816.58" cy="244.36" r="3"/>
<circle cx="817.66" cy="220.81" r="3"/>
<circle cx="818.74" cy="238.19" r="3"/>
<circle cx="819.82" cy="244.85" r="3"/>
<circle cx="820.90" cy="235.54" r="3"/>
<circle cx="821.98" cy="251.41" r="3"/>
<circle cx="823.06" cy="281.03" r="3"/>
<circle cx="824.14" cy="250.06" r="3"/>
<circle cx="825.22" cy="243.07" r="3"/>
<circle cx="826.30" cy="240.32" r="3"/>
<circle cx="827.38" cy="239.84" r="3"/>
<circle cx="828.46" cy="226.40" r="3"/>
<circle cx="829.54" cy="254.31" r="3"/>
<circle cx="830.62" cy="286.62" r="3"/>
<circle cx="831.70" cy="251.40" r="3"/>
<circle cx="832.78" cy="215.63" r="3"/>
<circle cx="833.86" cy="241.45" r="3"/>
<circle cx="834.94" cy="244.68" r="3"/>
<circle cx="836.02" cy="245.49" r="3"/>
<circle cx="837.10" cy="259.74" r="3"/>
</g>
</svg></body></html>
